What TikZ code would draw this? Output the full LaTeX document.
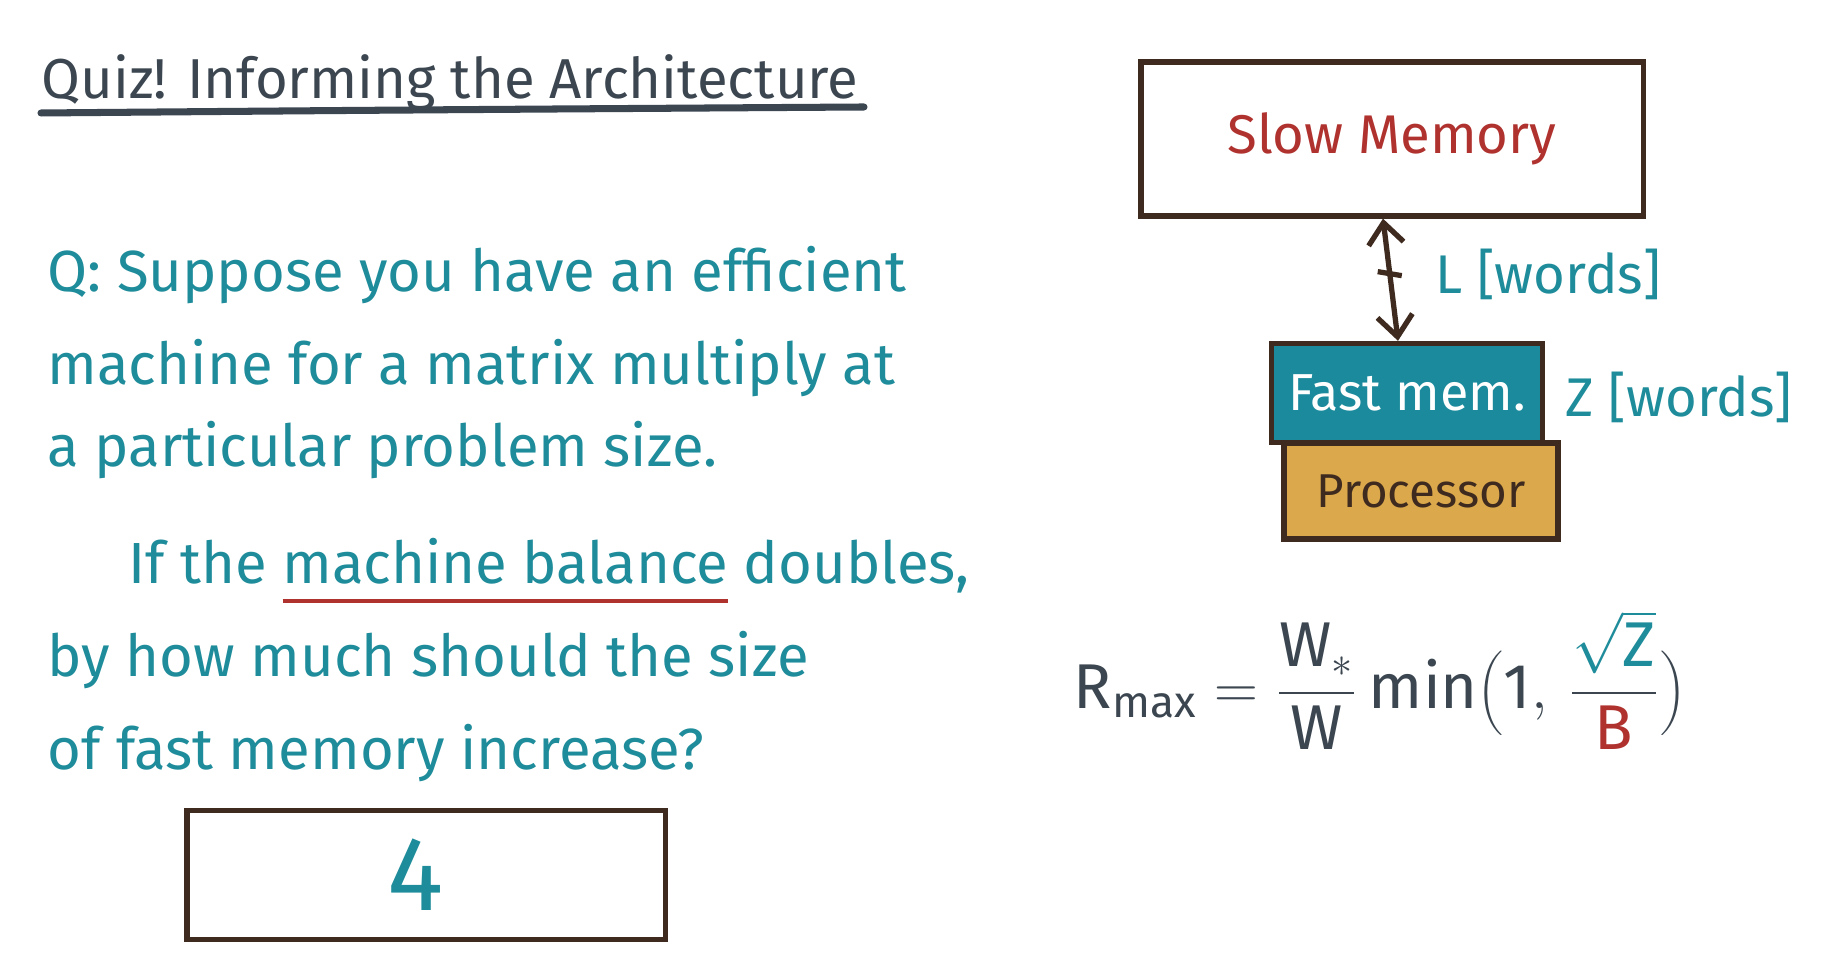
\documentclass[tikz,border=0pt]{standalone}
\usepackage{fontspec}
\setmainfont{Fira Sans}
\usetikzlibrary{arrows.meta,calc}

\definecolor{ink}{HTML}{3B4650}
\definecolor{qteal}{HTML}{1E8C9A}
\definecolor{memfill}{HTML}{1A8A9C}
\definecolor{procfill}{HTML}{DBA84B}
\definecolor{qred}{HTML}{B0322F}
\definecolor{boxline}{HTML}{3E2A1E}

% red underline drawn beneath a phrase
\newcommand\redunder[1]{\setbox0\hbox{#1}\rlap{\color{qred}\rule[-0.33em]{\wd0}{1.3pt}}\box0\relax}

\tikzset{
  titletext/.style={anchor=base west, inner sep=0pt, text=ink, font=\fontsize{16}{19}\selectfont},
  qtext/.style={anchor=base west, inner sep=0pt, text=qteal, font=\fontsize{16.5}{20}\selectfont},
  sketchbox/.style={draw=boxline, line width=1.5pt, inner sep=0pt},
  label/.style={anchor=west, inner sep=0pt, text=qteal, font=\fontsize{15.5}{18}\selectfont},
  link/.style={draw=boxline, line width=1.5pt, {Straight Barb[length=6pt,width=10pt]}-{Straight Barb[length=6pt,width=10pt]}}
}

\begin{document}
\begin{tikzpicture}[x=0.01cm, y=-0.01cm]
  \useasboundingbox[fill=white] (0,0) rectangle (1830,971);

  % heading
  \node[titletext] (title) at (41,99) {Quiz! Informing the Architecture};
  \draw[ink, line width=2pt, line cap=round] (41,113) .. controls (400,110) .. (864,107);

  % question
  \node[qtext] (q1) at (47,292) {Q: Suppose you have an efficient};
  \node[qtext] (q2) at (47,385) {machine for a matrix multiply at};
  \node[qtext] (q3) at (47,467) {a particular problem size.};
  \node[qtext] (q4) at (128,584) {If the \redunder{machine balance} doubles,};
  \node[qtext] (q5) at (47,677) {by how much should the size};
  \node[qtext] (q6) at (47,770) {of fast memory increase?};

  % answer box
  \node[sketchbox, minimum width=4.78cm, minimum height=1.29cm, text=qteal,
        font=\fontsize{30}{34}\selectfont] (answer) at (426,875) {\hspace*{-0.2cm}4};

  % memory hierarchy
  \node[sketchbox, minimum width=5.02cm, minimum height=1.54cm, text=qred,
        font=\fontsize{15.5}{19}\selectfont] (slow) at (1392,139) {Slow Memory};
  \node[sketchbox, fill=memfill, minimum width=2.71cm, minimum height=0.99cm, text=white,
        font=\fontsize{14.8}{18}\selectfont] (fast) at (1407,393) {Fast mem.};
  \node[sketchbox, fill=procfill, minimum width=2.74cm, minimum height=0.96cm, text=boxline,
        font=\fontsize{13.5}{16}\selectfont] (proc) at (1421,491) {Processor};

  \draw[link] ([xshift=-0.09cm]slow.south) -- coordinate[pos=0.45] (tick) ([xshift=-0.09cm]fast.north);
  \draw[boxline, line width=1.5pt] ([xshift=-0.12cm,yshift=0.02cm]tick) -- ([xshift=0.12cm,yshift=-0.02cm]tick);

  \node[label] (lw) at (1435,274) {L [words]};
  \node[label] (zw) at (1565,397) {Z [words]};

  % bound on achievable performance
  \node[inner sep=0pt, text=ink, anchor=center] (rmax) at (1380,680)
    {\fontsize{18}{21}\selectfont
     $\displaystyle \mathrm{R}_{\mathrm{max}} = \frac{\mathrm{W}_{*}}{\mathrm{W}}\,\mathrm{min}\biggl(\mathrm{1},\,
      \frac{\color{qteal}\sqrt{\mathrm{Z}}}{\color{qred}\mathrm{B}}\biggr)$};
\end{tikzpicture}
\end{document}
